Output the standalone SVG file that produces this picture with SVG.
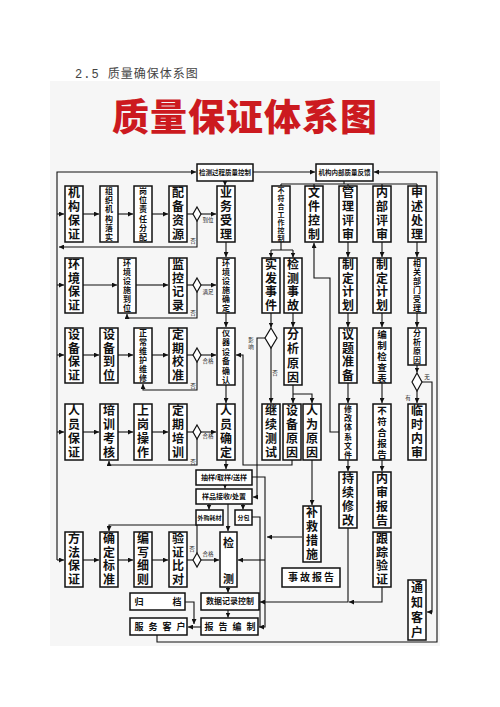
<svg xmlns="http://www.w3.org/2000/svg" width="500" height="707" viewBox="0 0 500 707">
<defs>
<marker id="a" viewBox="0 0 10 10" refX="10" refY="5" markerUnits="userSpaceOnUse" markerWidth="5" markerHeight="5" orient="auto"><path d="M0,0 L10,5 L0,10 z" fill="#111"/></marker>
</defs>
<style>
.b{fill:#fff;stroke:#111;stroke-width:1.5}
.d{fill:#fff;stroke:#111;stroke-width:1.2}
.v{font-family:"Liberation Sans","Noto Sans CJK SC",sans-serif;font-weight:700;text-anchor:middle;dominant-baseline:central;fill:#111}
.f12{font-size:12px}.f9{font-size:9.5px}.f8{font-size:8px}.f7{font-size:7px}.f6{font-size:6px}
.l{fill:none;stroke:#111;stroke-width:1.1}
.m{marker-end:url(#a)}
.lb{font-family:"Liberation Sans","Noto Sans CJK SC",sans-serif;font-size:5.5px;fill:#222;text-anchor:middle;dominant-baseline:central}
</style>
<rect x="0" y="0" width="500" height="707" fill="#fff"/>
<text x="75" y="78" font-family="'Liberation Mono','Noto Sans CJK SC',monospace" font-size="12" letter-spacing="1" fill="#444">2.5 质量确保体系图</text>
<rect x="50" y="81" width="390" height="565" fill="#f6f6f6"/>
<text x="245" y="118" font-family="'Liberation Sans','Noto Sans CJK SC',sans-serif" font-weight="900" font-size="37" letter-spacing="1" fill="#cc1a1f" text-anchor="middle" dominant-baseline="central">质量保证体系图</text>

<g id="connectors">
<path class="l m" d="M253,172 H315"/>
<path class="l m" d="M57,560 V172 H196"/>
<path class="l m" d="M57,214 H64"/><path class="l m" d="M57,285 H64"/><path class="l m" d="M57,355 H64"/><path class="l m" d="M57,432 H64"/><path class="l m" d="M57,560 H64"/>
<path class="l m" d="M225,181 V185.5"/>
<path class="l" d="M344,181 V184 M281,184 H417 M281,184 V186 M314,184 V186 M348,184 V186 M382,184 V186 M417,184 V186"/>
<path class="l m" d="M83,214 H99"/><path class="l m" d="M118,214 H133"/><path class="l m" d="M152,214 H168"/><path class="l" d="M187,214 H193"/><path class="l m" d="M201,214 H216"/>
<path class="l m" d="M197,221 V247 H59"/>
<path class="l m" d="M83,285 H117"/><path class="l m" d="M136,285 H168"/><path class="l" d="M187,285 H193"/><path class="l m" d="M201,285 H216"/>
<path class="l m" d="M197,292 V318 H127 V314"/>
<path class="l m" d="M83,355 H99"/><path class="l m" d="M118,355 H133"/><path class="l m" d="M152,355 H168"/><path class="l" d="M187,355 H193"/><path class="l m" d="M201,355 H216"/>
<path class="l m" d="M197,362 V390 H143 V384"/>
<path class="l m" d="M83,432 H99"/><path class="l m" d="M118,432 H133"/><path class="l m" d="M152,432 H168"/><path class="l" d="M187,432 H193"/><path class="l m" d="M201,432 H216"/>
<path class="l m" d="M197,439 V465 H109 V461"/>
<path class="l m" d="M83,560 H99"/><path class="l m" d="M118,560 H133"/><path class="l m" d="M152,560 H168"/><path class="l" d="M187,560 H193"/><path class="l m" d="M201,560 H219"/>
<path class="l m" d="M197,553 V525 H109 V531"/>
<path class="l m" d="M226,242 V257"/><path class="l m" d="M226,313 V327"/><path class="l m" d="M226,385 V403"/><path class="l m" d="M226,460 V469"/><path class="l m" d="M225,485 V488.5"/>
<path class="l m" d="M209,504 V509.5"/><path class="l m" d="M243,504 V509.5"/><path class="l m" d="M228,504 V531"/>
<path class="l m" d="M228,587 V592.5"/><path class="l m" d="M228,610 V617.5"/>
<path class="l m" d="M252,477 H265 V627 H259"/>
<path class="l" d="M252,517 H260 V627"/>
<path class="l m" d="M302,537 H267"/>
<path class="l m" d="M265,560 H238"/>
<path class="l m" d="M265,338 H257 V497 H253"/>
<path class="l m" d="M292,460 V465 H243 V355 H236"/>
<path class="l" d="M281,242 V250 M271,250 H293"/>
<path class="l m" d="M271,250 V257.5"/><path class="l m" d="M293,250 V257.5"/>
<path class="l m" d="M271,313 V327.5"/>
<path class="l m" d="M271,348 V403"/>
<path class="l m" d="M293,313 V327"/>
<path class="l m" d="M293,385 V403"/><path class="l m" d="M293,394 H312 V403"/>
<path class="l m" d="M312,460 V505"/>
<path class="l m" d="M339,432 H330 V278 H314 V243"/>
<path class="l m" d="M348,242 V257"/><path class="l m" d="M348,313 V327"/><path class="l m" d="M348,383 V403"/><path class="l m" d="M348,460 V471"/>
<path class="l m" d="M382,242 V257"/><path class="l m" d="M382,313 V327"/><path class="l m" d="M382,383 V403"/><path class="l m" d="M382,460 V471"/>
<path class="l m" d="M417,242 V257"/><path class="l m" d="M417,313 V327"/><path class="l m" d="M417,365 V372.5"/><path class="l m" d="M417,391 V403"/>
<path class="l m" d="M422,382 H432 V612 H427"/>
<path class="l m" d="M382,587 V602 H349"/>
<path class="l m" d="M348,528 V602 H260"/>
<path class="l m" d="M185,602 H194 V624"/>
<path class="l m" d="M201,627 H188"/>
<path class="l m" d="M157,635 V642 H437 V172 H374"/>
<polygon class="d" points="197,207 201,214 197,221 193,214"/>
<polygon class="d" points="197,278 201,285 197,292 193,285"/>
<polygon class="d" points="197,348 201,355 197,362 193,355"/>
<polygon class="d" points="197,425 201,432 197,439 193,432"/>
<polygon class="d" points="197,553 201,560 197,567 193,560"/>
<polygon class="d" points="271,328 277,338 271,348 265,338"/>
<polygon class="d" points="417,373 422,382 417,391 412,382"/>
<text class="lb" x="208" y="220">到位</text><text class="lb" x="193" y="241">否</text>
<text class="lb" x="208" y="292">满足</text><text class="lb" x="193" y="313">否</text>
<text class="lb" x="208" y="361">合格</text><text class="lb" x="193" y="386">否</text>
<text class="lb" x="208" y="436">合格</text><text class="lb" x="193" y="462">否</text>
<text class="lb" x="208" y="554">合格</text><text class="lb" x="192" y="549">否</text>
<text class="lb" x="251" y="340">影</text><text class="lb" x="251" y="347">响</text>
<text class="lb" x="275" y="373">否</text>
<text class="lb" x="427" y="377">无</text><text class="lb" x="408" y="398">有</text>
</g>

<g id="top1"><rect class="b" x="197" y="164" width="56" height="17"/><text class="v" style="font-size:6.5px" x="225" y="172.5">检测过程质量控制</text></g>
<g id="top2"><rect class="b" x="316" y="164" width="57" height="17"/><text class="v" style="font-size:6.5px" x="344.5" y="172.5">机构内部质量反馈</text></g>

<g id="n_jggz"><rect class="b" x="65" y="186" width="18" height="56"/><text class="v f12"><tspan x="74" y="193">机</tspan><tspan x="74" y="207">构</tspan><tspan x="74" y="221">保</tspan><tspan x="74" y="235">证</tspan></text></g>
<g id="n_zzjg"><rect class="b" x="100" y="186" width="18" height="56"/><text class="v f8"><tspan x="109" y="190.7">组</tspan><tspan x="109" y="200">织</tspan><tspan x="109" y="209.3">机</tspan><tspan x="109" y="218.7">构</tspan><tspan x="109" y="228">落</tspan><tspan x="109" y="237.3">实</tspan></text></g>
<g id="n_gwzr"><rect class="b" x="134" y="186" width="18" height="56"/><text class="v f8"><tspan x="143" y="190.7">岗</tspan><tspan x="143" y="200">位</tspan><tspan x="143" y="209.3">责</tspan><tspan x="143" y="218.7">任</tspan><tspan x="143" y="228">分</tspan><tspan x="143" y="237.3">配</tspan></text></g>
<g id="n_pbzy"><rect class="b" x="169" y="186" width="18" height="56"/><text class="v f12"><tspan x="178" y="193">配</tspan><tspan x="178" y="207">备</tspan><tspan x="178" y="221">资</tspan><tspan x="178" y="235">源</tspan></text></g>
<g id="n_ywsl"><rect class="b" x="217" y="186" width="18" height="56"/><text class="v f12"><tspan x="226" y="193">业</tspan><tspan x="226" y="207">务</tspan><tspan x="226" y="221">受</tspan><tspan x="226" y="235">理</tspan></text></g>
<g id="n_bfh"><rect class="b" x="272" y="186" width="18" height="56"/><text class="v f7"><tspan x="281" y="190">不</tspan><tspan x="281" y="198">符</tspan><tspan x="281" y="206">合</tspan><tspan x="281" y="214">工</tspan><tspan x="281" y="222">作</tspan><tspan x="281" y="230">控</tspan><tspan x="281" y="238">制</tspan></text></g>
<g id="n_wjkz"><rect class="b" x="305" y="186" width="18" height="56"/><text class="v f12"><tspan x="314" y="193">文</tspan><tspan x="314" y="207">件</tspan><tspan x="314" y="221">控</tspan><tspan x="314" y="235">制</tspan></text></g>
<g id="n_glps"><rect class="b" x="339" y="186" width="18" height="56"/><text class="v f12"><tspan x="348" y="193">管</tspan><tspan x="348" y="207">理</tspan><tspan x="348" y="221">评</tspan><tspan x="348" y="235">审</tspan></text></g>
<g id="n_nbps"><rect class="b" x="373" y="186" width="18" height="56"/><text class="v f12"><tspan x="382" y="193">内</tspan><tspan x="382" y="207">部</tspan><tspan x="382" y="221">评</tspan><tspan x="382" y="235">审</tspan></text></g>
<g id="n_sscl"><rect class="b" x="408" y="186" width="18" height="56"/><text class="v f12"><tspan x="417" y="193">申</tspan><tspan x="417" y="207">述</tspan><tspan x="417" y="221">处</tspan><tspan x="417" y="235">理</tspan></text></g>

<g id="n_hjbz"><rect class="b" x="65" y="258" width="18" height="55"/><text class="v f12"><tspan x="74" y="264.9">环</tspan><tspan x="74" y="278.6">境</tspan><tspan x="74" y="292.4">保</tspan><tspan x="74" y="306.1">证</tspan></text></g>
<g id="n_hjssdw"><rect class="b" x="118" y="258" width="18" height="55"/><text class="v f8"><tspan x="127" y="262.6">环</tspan><tspan x="127" y="271.8">境</tspan><tspan x="127" y="280.9">设</tspan><tspan x="127" y="290.1">施</tspan><tspan x="127" y="299.3">到</tspan><tspan x="127" y="308.4">位</tspan></text></g>
<g id="n_jkjl"><rect class="b" x="169" y="258" width="18" height="55"/><text class="v f12"><tspan x="178" y="264.9">监</tspan><tspan x="178" y="278.6">控</tspan><tspan x="178" y="292.4">记</tspan><tspan x="178" y="306.1">录</tspan></text></g>
<g id="n_hjssqd"><rect class="b" x="217" y="258" width="18" height="55"/><text class="v f8"><tspan x="226" y="262.6">环</tspan><tspan x="226" y="271.8">境</tspan><tspan x="226" y="280.9">设</tspan><tspan x="226" y="290.1">施</tspan><tspan x="226" y="299.3">确</tspan><tspan x="226" y="308.4">定</tspan></text></g>
<g id="n_sfsj"><rect class="b" x="262" y="258" width="18" height="55"/><text class="v f12"><tspan x="271" y="264.9">实</tspan><tspan x="271" y="278.6">发</tspan><tspan x="271" y="292.4">事</tspan><tspan x="271" y="306.1">件</tspan></text></g>
<g id="n_jcsg"><rect class="b" x="284" y="258" width="18" height="55"/><text class="v f12"><tspan x="293" y="264.9">检</tspan><tspan x="293" y="278.6">测</tspan><tspan x="293" y="292.4">事</tspan><tspan x="293" y="306.1">故</tspan></text></g>
<g id="n_zdjh1"><rect class="b" x="339" y="258" width="18" height="55"/><text class="v f12"><tspan x="348" y="264.9">制</tspan><tspan x="348" y="278.6">定</tspan><tspan x="348" y="292.4">计</tspan><tspan x="348" y="306.1">划</tspan></text></g>
<g id="n_zdjh2"><rect class="b" x="373" y="258" width="18" height="55"/><text class="v f12"><tspan x="382" y="264.9">制</tspan><tspan x="382" y="278.6">定</tspan><tspan x="382" y="292.4">计</tspan><tspan x="382" y="306.1">划</tspan></text></g>
<g id="n_xgbm"><rect class="b" x="408" y="258" width="18" height="55"/><text class="v f8"><tspan x="417" y="262.6">相</tspan><tspan x="417" y="271.8">关</tspan><tspan x="417" y="280.9">部</tspan><tspan x="417" y="290.1">门</tspan><tspan x="417" y="299.3">受</tspan><tspan x="417" y="308.4">理</tspan></text></g>

<g id="n_sbbz"><rect class="b" x="65" y="328" width="18" height="55"/><text class="v f12"><tspan x="74" y="334.9">设</tspan><tspan x="74" y="348.6">备</tspan><tspan x="74" y="362.4">保</tspan><tspan x="74" y="376.1">证</tspan></text></g>
<g id="n_sbdw"><rect class="b" x="100" y="328" width="18" height="55"/><text class="v f12"><tspan x="109" y="334.9">设</tspan><tspan x="109" y="348.6">备</tspan><tspan x="109" y="362.4">到</tspan><tspan x="109" y="376.1">位</tspan></text></g>
<g id="n_zcwh"><rect class="b" x="134" y="328" width="18" height="55"/><text class="v f8"><tspan x="143" y="332.6">正</tspan><tspan x="143" y="341.8">常</tspan><tspan x="143" y="350.9">维</tspan><tspan x="143" y="360.1">护</tspan><tspan x="143" y="369.3">维</tspan><tspan x="143" y="378.4">修</tspan></text></g>
<g id="n_dqjz"><rect class="b" x="169" y="328" width="18" height="55"/><text class="v f12"><tspan x="178" y="334.9">定</tspan><tspan x="178" y="348.6">期</tspan><tspan x="178" y="362.4">校</tspan><tspan x="178" y="376.1">准</tspan></text></g>
<g id="n_yqsb"><rect class="b" x="217" y="328" width="18" height="57"/><text class="v f8"><tspan x="226" y="332.8">仪</tspan><tspan x="226" y="342.3">器</tspan><tspan x="226" y="351.8">设</tspan><tspan x="226" y="361.3">备</tspan><tspan x="226" y="370.8">确</tspan><tspan x="226" y="380.3">认</tspan></text></g>
<g id="n_fxyy1"><rect class="b" x="284" y="328" width="18" height="57"/><text class="v f12"><tspan x="293" y="335.1">分</tspan><tspan x="293" y="349.4">析</tspan><tspan x="293" y="363.6">原</tspan><tspan x="293" y="377.9">因</tspan></text></g>
<g id="n_ytzb"><rect class="b" x="339" y="328" width="18" height="55"/><text class="v f12"><tspan x="348" y="334.9">议</tspan><tspan x="348" y="348.6">题</tspan><tspan x="348" y="362.4">准</tspan><tspan x="348" y="376.1">备</tspan></text></g>
<g id="n_bzjcb"><rect class="b" x="373" y="328" width="18" height="55"/><text class="v f9"><tspan x="382" y="333.5">编</tspan><tspan x="382" y="344.5">制</tspan><tspan x="382" y="355.5">检</tspan><tspan x="382" y="366.5">查</tspan><tspan x="382" y="377.5">表</tspan></text></g>
<g id="n_fxyy2"><rect class="b" x="408" y="328" width="18" height="37"/><text class="v f8"><tspan x="417" y="332.6">分</tspan><tspan x="417" y="341.9">析</tspan><tspan x="417" y="351.1">原</tspan><tspan x="417" y="360.4">因</tspan></text></g>

<g id="n_rybz"><rect class="b" x="65" y="404" width="18" height="56"/><text class="v f12"><tspan x="74" y="411">人</tspan><tspan x="74" y="425">员</tspan><tspan x="74" y="439">保</tspan><tspan x="74" y="453">证</tspan></text></g>
<g id="n_pxkh"><rect class="b" x="100" y="404" width="18" height="56"/><text class="v f12"><tspan x="109" y="411">培</tspan><tspan x="109" y="425">训</tspan><tspan x="109" y="439">考</tspan><tspan x="109" y="453">核</tspan></text></g>
<g id="n_sgcz"><rect class="b" x="134" y="404" width="18" height="56"/><text class="v f12"><tspan x="143" y="411">上</tspan><tspan x="143" y="425">岗</tspan><tspan x="143" y="439">操</tspan><tspan x="143" y="453">作</tspan></text></g>
<g id="n_dqpx"><rect class="b" x="169" y="404" width="18" height="56"/><text class="v f12"><tspan x="178" y="411">定</tspan><tspan x="178" y="425">期</tspan><tspan x="178" y="439">培</tspan><tspan x="178" y="453">训</tspan></text></g>
<g id="n_ryqd"><rect class="b" x="217" y="404" width="18" height="56"/><text class="v f12"><tspan x="226" y="411">人</tspan><tspan x="226" y="425">员</tspan><tspan x="226" y="439">确</tspan><tspan x="226" y="453">定</tspan></text></g>
<g id="n_jxcs"><rect class="b" x="262" y="404" width="18" height="56"/><text class="v f12"><tspan x="271" y="411">继</tspan><tspan x="271" y="425">续</tspan><tspan x="271" y="439">测</tspan><tspan x="271" y="453">试</tspan></text></g>
<g id="n_sbyy"><rect class="b" x="283" y="404" width="18" height="56"/><text class="v f12"><tspan x="292" y="411">设</tspan><tspan x="292" y="425">备</tspan><tspan x="292" y="439">原</tspan><tspan x="292" y="453">因</tspan></text></g>
<g id="n_rwyy"><rect class="b" x="303" y="404" width="18" height="56"/><text class="v f12"><tspan x="312" y="411">人</tspan><tspan x="312" y="425">为</tspan><tspan x="312" y="439">原</tspan><tspan x="312" y="453">因</tspan></text></g>
<g id="n_xgtx"><rect class="b" x="339" y="404" width="18" height="56"/><text class="v f8"><tspan x="348" y="408.7">修</tspan><tspan x="348" y="418">改</tspan><tspan x="348" y="427.3">体</tspan><tspan x="348" y="436.7">系</tspan><tspan x="348" y="446">文</tspan><tspan x="348" y="455.3">件</tspan></text></g>
<g id="n_bfhbg"><rect class="b" x="373" y="404" width="18" height="56"/><text class="v f9"><tspan x="382" y="409.6">不</tspan><tspan x="382" y="420.8">符</tspan><tspan x="382" y="432">合</tspan><tspan x="382" y="443.2">报</tspan><tspan x="382" y="454.4">告</tspan></text></g>
<g id="n_lsns"><rect class="b" x="408" y="404" width="18" height="56"/><text class="v f12"><tspan x="417" y="411">临</tspan><tspan x="417" y="425">时</tspan><tspan x="417" y="439">内</tspan><tspan x="417" y="453">审</tspan></text></g>

<g id="n_cxxg"><rect class="b" x="339" y="472" width="18" height="56"/><text class="v f12"><tspan x="348" y="479">持</tspan><tspan x="348" y="493">续</tspan><tspan x="348" y="507">修</tspan><tspan x="348" y="521">改</tspan></text></g>
<g id="n_nsbg"><rect class="b" x="373" y="472" width="18" height="56"/><text class="v f12"><tspan x="382" y="479">内</tspan><tspan x="382" y="493">审</tspan><tspan x="382" y="507">报</tspan><tspan x="382" y="521">告</tspan></text></g>
<g id="n_bjcs"><rect class="b" x="303" y="506" width="18" height="56"/><text class="v f12"><tspan x="312" y="513">补</tspan><tspan x="312" y="527">救</tspan><tspan x="312" y="541">措</tspan><tspan x="312" y="555">施</tspan></text></g>

<g id="n_cyqy"><rect class="b" x="196" y="470" width="56" height="15"/><text class="v f7" x="224" y="477.5">抽样/取样/送样</text></g>
<g id="n_ypjs"><rect class="b" x="196" y="489" width="56" height="15"/><text class="v" style="font-size:7px" x="224" y="496.5">样品接收/处置</text></g>
<g id="n_wghc"><rect class="b" x="196" y="510" width="27" height="15"/><text class="v f6" x="209.5" y="517.5">外购耗材</text></g>
<g id="n_fb"><rect class="b" x="235" y="510" width="17" height="15"/><text class="v f6" x="243.5" y="517.5">分包</text></g>

<g id="n_ffbz"><rect class="b" x="65" y="532" width="18" height="55"/><text class="v f12"><tspan x="74" y="538.9">方</tspan><tspan x="74" y="552.6">法</tspan><tspan x="74" y="566.4">保</tspan><tspan x="74" y="580.1">证</tspan></text></g>
<g id="n_qdbz"><rect class="b" x="100" y="532" width="18" height="55"/><text class="v f12"><tspan x="109" y="538.9">确</tspan><tspan x="109" y="552.6">定</tspan><tspan x="109" y="566.4">标</tspan><tspan x="109" y="580.1">准</tspan></text></g>
<g id="n_bxxz"><rect class="b" x="134" y="532" width="18" height="55"/><text class="v f12"><tspan x="143" y="538.9">编</tspan><tspan x="143" y="552.6">写</tspan><tspan x="143" y="566.4">细</tspan><tspan x="143" y="580.1">则</tspan></text></g>
<g id="n_yzbd"><rect class="b" x="169" y="532" width="18" height="55"/><text class="v f12"><tspan x="178" y="538.9">验</tspan><tspan x="178" y="552.6">证</tspan><tspan x="178" y="566.4">比</tspan><tspan x="178" y="580.1">对</tspan></text></g>
<g id="n_jc"><rect class="b" x="220" y="532" width="17" height="55"/><text class="v" style="font-size:11px"><tspan x="228.5" y="543">检</tspan><tspan x="228.5" y="579">测</tspan></text></g>
<g id="n_gzyz"><rect class="b" x="373" y="532" width="18" height="55"/><text class="v f12"><tspan x="382" y="538.9">跟</tspan><tspan x="382" y="552.6">踪</tspan><tspan x="382" y="566.4">验</tspan><tspan x="382" y="580.1">证</tspan></text></g>
<g id="n_sgbg"><rect class="b" x="282" y="568" width="58" height="19"/><text class="v" style="font-size:10px" letter-spacing="2" x="312" y="577.5">事故报告</text></g>
<g id="n_tzkh"><rect class="b" x="408" y="580" width="18" height="60"/><text class="v f12"><tspan x="417" y="587.5">通</tspan><tspan x="417" y="602.5">知</tspan><tspan x="417" y="617.5">客</tspan><tspan x="417" y="632.5">户</tspan></text></g>

<g id="n_sjjl"><rect class="b" x="201" y="593" width="58" height="17"/><text class="v f8" x="230" y="601.5">数据记录控制</text></g>
<g id="n_bgbz"><rect class="b" x="201" y="618" width="57" height="17"/><text class="v" style="font-size:9px"><tspan x="209" y="626.5">报</tspan><tspan x="223" y="626.5">告</tspan><tspan x="237" y="626.5">编</tspan><tspan x="251" y="626.5">制</tspan></text></g>
<g id="n_gd"><rect class="b" x="130" y="593" width="55" height="17"/><text class="v" style="font-size:9px"><tspan x="139" y="601.5">归</tspan><tspan x="177" y="601.5">档</tspan></text></g>
<g id="n_fwkh"><rect class="b" x="130" y="618" width="57" height="17"/><text class="v" style="font-size:9px"><tspan x="139" y="626.5">服</tspan><tspan x="153" y="626.5">务</tspan><tspan x="167" y="626.5">客</tspan><tspan x="181" y="626.5">户</tspan></text></g>
</svg>
